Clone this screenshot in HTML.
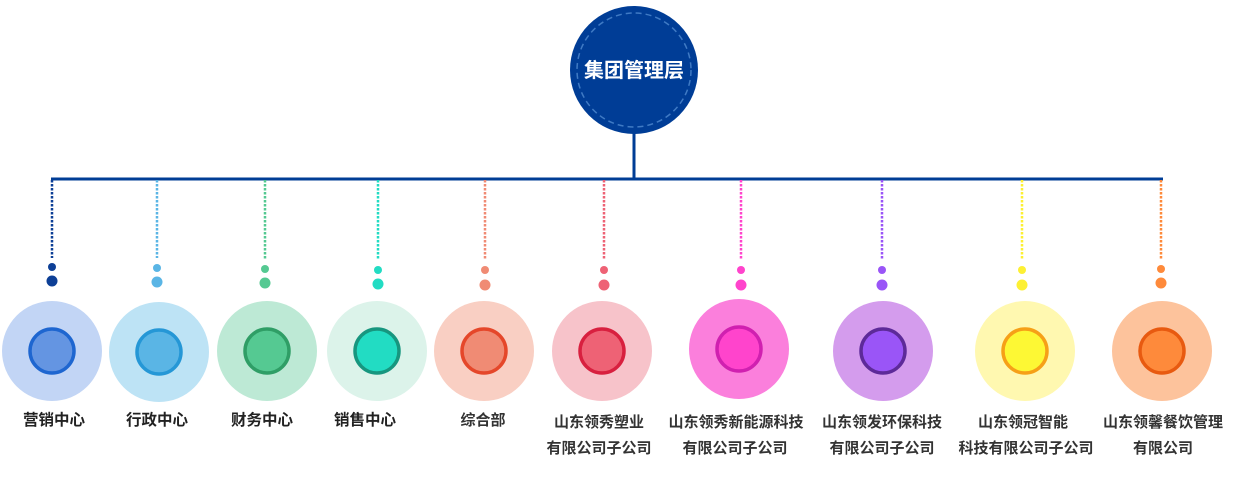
<!DOCTYPE html>
<html><head><meta charset="utf-8"><style>
html,body{margin:0;padding:0;background:#fff;width:1250px;height:477px;overflow:hidden}
svg{display:block}
text{font-family:"Liberation Sans","Noto Sans CJK SC",sans-serif;font-weight:bold;}
</style></head><body>
<svg width="1250" height="477" viewBox="0 0 1250 477">
<circle cx="634" cy="70" r="64" fill="#003d96"/>
<circle cx="634" cy="70" r="57" fill="none" stroke="#3f7ac4" stroke-width="1.5" stroke-dasharray="6 4"/>
<text x="634" y="77" fill="#fff" font-size="20" text-anchor="middle">集团管理层</text>
<line x1="634" y1="133" x2="634" y2="180" stroke="#003d96" stroke-width="3"/>
<line x1="51" y1="179" x2="1163" y2="179" stroke="#003d96" stroke-width="3"/>
<g stroke-width="2.5" fill="none" stroke-dasharray="2.5 1.5">
<line x1="52" y1="180" x2="52" y2="258" stroke="#0d3f96"/>
<line x1="157" y1="180" x2="157" y2="258" stroke="#5ab5e5"/>
<line x1="265" y1="180" x2="265" y2="260" stroke="#55c992"/>
<line x1="378" y1="180" x2="378" y2="260" stroke="#22dcc3"/>
<line x1="485" y1="180" x2="485" y2="260" stroke="#f08b74"/>
<line x1="604" y1="180" x2="604" y2="260" stroke="#ee6275"/>
<line x1="741" y1="180" x2="741" y2="260" stroke="#ff44cc"/>
<line x1="882" y1="180" x2="882" y2="260" stroke="#9a55f7"/>
<line x1="1022" y1="180" x2="1022" y2="260" stroke="#fdf034"/>
<line x1="1161" y1="180" x2="1161" y2="260" stroke="#fe8a3b"/>
</g>
<g><circle cx="52" cy="267" r="4" fill="#0d3f96"/><circle cx="52" cy="281" r="5.5" fill="#0d3f96"/>
<circle cx="52" cy="351" r="50" fill="#c2d5f5"/><circle cx="52" cy="351" r="22" fill="#6495e2" stroke="#1e66d0" stroke-width="3.5"/>
<text x="54" y="425" font-size="15.5" fill="#222" text-anchor="middle">营销中心</text></g>
<g><circle cx="157" cy="268" r="4" fill="#5ab5e5"/><circle cx="157" cy="282" r="5.5" fill="#5ab5e5"/>
<circle cx="159" cy="352" r="50" fill="#bde3f5"/><circle cx="159" cy="352" r="22" fill="#5ab5e5" stroke="#2597d6" stroke-width="3.5"/>
<text x="157" y="425" font-size="15.5" fill="#222" text-anchor="middle">行政中心</text></g>
<g><circle cx="265" cy="269" r="4" fill="#55c992"/><circle cx="265" cy="283" r="5.5" fill="#55c992"/>
<circle cx="267" cy="351" r="50" fill="#bde9d5"/><circle cx="267" cy="351" r="22" fill="#55c992" stroke="#2f9e66" stroke-width="3.5"/>
<text x="262" y="425" font-size="15.5" fill="#222" text-anchor="middle">财务中心</text></g>
<g><circle cx="378" cy="270" r="4" fill="#22dcc3"/><circle cx="378" cy="284" r="5.5" fill="#22dcc3"/>
<circle cx="377" cy="351" r="50" fill="#dcf3ea"/><circle cx="377" cy="351" r="22" fill="#22dcc3" stroke="#17967f" stroke-width="3.5"/>
<text x="365" y="425" font-size="15.5" fill="#222" text-anchor="middle">销售中心</text></g>
<g><circle cx="485" cy="270" r="4" fill="#f08b74"/><circle cx="485" cy="285" r="5.5" fill="#f08b74"/>
<circle cx="484" cy="351" r="50" fill="#f9cfc3"/><circle cx="484" cy="351" r="22" fill="#f08b74" stroke="#e5472a" stroke-width="3.5"/>
<text x="483" y="425" font-size="15" fill="#333" text-anchor="middle">综合部</text></g>
<g><circle cx="604" cy="270" r="4" fill="#ee6275"/><circle cx="604" cy="285" r="5.5" fill="#ee6275"/>
<circle cx="602" cy="351" r="50" fill="#f7c3ca"/><circle cx="602" cy="351" r="22" fill="#ee6275" stroke="#d8203f" stroke-width="3.5"/>
<text x="599" y="427" font-size="15" fill="#333" text-anchor="middle">山东领秀塑业</text>
<text x="599" y="453" font-size="15" fill="#333" text-anchor="middle">有限公司子公司</text></g>
<g><circle cx="741" cy="270" r="4" fill="#ff44cc"/><circle cx="741" cy="285" r="5.5" fill="#ff44cc"/>
<circle cx="739" cy="349" r="50" fill="#fb7fdc"/><circle cx="739" cy="349" r="22" fill="#ff44cc" stroke="#d020b0" stroke-width="3.5"/>
<text x="736" y="427" font-size="15" fill="#333" text-anchor="middle">山东领秀新能源科技</text>
<text x="735" y="453" font-size="15" fill="#333" text-anchor="middle">有限公司子公司</text></g>
<g><circle cx="882" cy="270" r="4" fill="#9a55f7"/><circle cx="882" cy="285" r="5.5" fill="#9a55f7"/>
<circle cx="883" cy="351" r="50" fill="#d49ced"/><circle cx="883" cy="351" r="22" fill="#9a55f7" stroke="#5d2a99" stroke-width="3.5"/>
<text x="882" y="427" font-size="15" fill="#333" text-anchor="middle">山东领发环保科技</text>
<text x="882" y="453" font-size="15" fill="#333" text-anchor="middle">有限公司子公司</text></g>
<g><circle cx="1022" cy="270" r="4" fill="#fdf034"/><circle cx="1022" cy="285" r="5.5" fill="#fdf034"/>
<circle cx="1025" cy="351" r="50" fill="#fff8b0"/><circle cx="1025" cy="351" r="22" fill="#fdf834" stroke="#f6a017" stroke-width="3.5"/>
<text x="1023" y="427" font-size="15" fill="#333" text-anchor="middle">山东领冠智能</text>
<text x="1026" y="453" font-size="15" fill="#333" text-anchor="middle">科技有限公司子公司</text></g>
<g><circle cx="1161" cy="269" r="4" fill="#fe8a3b"/><circle cx="1161" cy="283" r="5.5" fill="#fe8a3b"/>
<circle cx="1162" cy="351" r="50" fill="#fdc39c"/><circle cx="1162" cy="351" r="22" fill="#fe8a3b" stroke="#e85a10" stroke-width="3.5"/>
<text x="1163" y="427" font-size="15" fill="#333" text-anchor="middle">山东领馨餐饮管理</text>
<text x="1163" y="453" font-size="15" fill="#333" text-anchor="middle">有限公司</text></g>
</svg>
</body></html>
